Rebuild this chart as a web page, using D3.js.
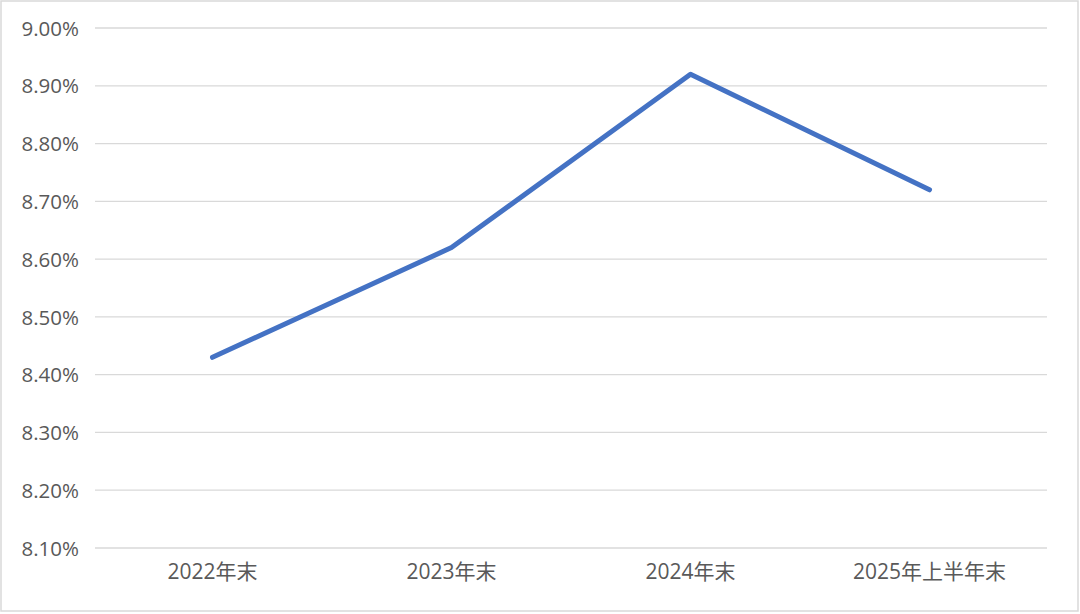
<!DOCTYPE html>
<html>
<head>
<meta charset="utf-8">
<script src="https://cdn.jsdelivr.net/npm/d3@7"></script>
<style>
  body { margin: 0; background: #fff; }
  svg { display: block; }
  .axis text { font-family: "Open Sans", "Noto Sans CJK SC", sans-serif; font-size: 20.5px; fill: #595959; }
  .axis-x text { font-size: 21px; }
</style>
</head>
<body>
<svg width="1080" height="614"></svg>
<script>
var categories = ["2022年末", "2023年末", "2024年末", "2025年上半年末"];
var values = [8.43, 8.62, 8.92, 8.72];
var yTicks = [8.1, 8.2, 8.3, 8.4, 8.5, 8.6, 8.7, 8.8, 8.9, 9.0];

var svg = d3.select("svg"),
    margin = {top: 28, right: 31, bottom: 66, left: 93},
    width = +svg.attr("width") - (margin.left + margin.right),
    height = +svg.attr("height") - (margin.top + margin.bottom);

// outer frame
svg.append("rect")
    .attr("x", 1).attr("y", 1)
    .attr("width", 1077).attr("height", 610)
    .attr("fill", "none")
    .attr("stroke", "#d9d9d9")
    .attr("stroke-width", 1.5);

var x = d3.scaleBand().range([0, width]).domain(categories),
    y = d3.scaleLinear().range([height, 0]).domain([8.1, 9.0]);

var g = svg.append("g").attr("transform", "translate(" + margin.left + "," + margin.top + ")");

// gridlines
g.selectAll(".grid")
    .data(yTicks)
    .enter().append("line")
    .attr("class", "grid")
    .attr("x1", 2)
    .attr("x2", width - 2)
    .attr("y1", function(d) { return y(d); })
    .attr("y2", function(d) { return y(d); })
    .attr("stroke", "#d9d9d9")
    .attr("stroke-width", 1.3);

g.append("g")
    .attr("class", "axis axis-y")
    .call(d3.axisLeft(y).tickValues(yTicks).tickSize(0).tickPadding(14)
        .tickFormat(function(d) { return d.toFixed(2) + "%"; }))
    .call(function(a) { a.select(".domain").remove(); })
    .selectAll("text").attr("dy", "0.35em");

g.append("g")
    .attr("class", "axis axis-x")
    .attr("transform", "translate(0," + height + ")")
    .call(d3.axisBottom(x).tickSize(0).tickPadding(16))
    .call(function(a) { a.select(".domain").remove(); });

var line = d3.line()
    .x(function(d, i) { return x(categories[i]) + x.bandwidth() / 2; })
    .y(function(d) { return y(d); });

g.append("path")
    .datum(values)
    .attr("d", line)
    .attr("fill", "none")
    .attr("stroke", "#4472c4")
    .attr("stroke-width", 5)
    .attr("stroke-linejoin", "round")
    .attr("stroke-linecap", "round");
</script>
</body>
</html>
